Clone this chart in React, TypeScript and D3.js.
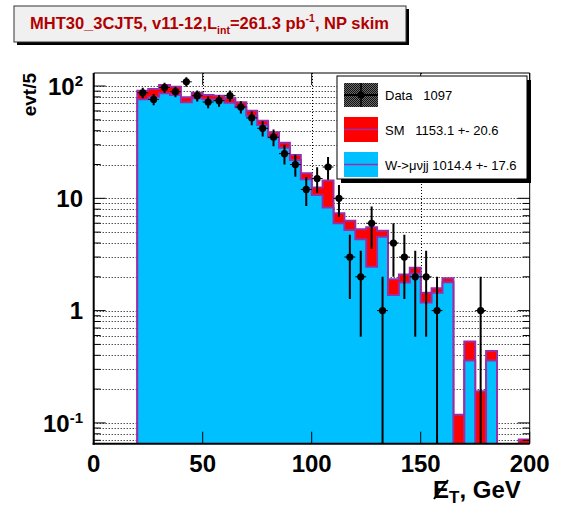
import React from 'react';
import * as d3 from 'd3';

// ---- data (5 GeV bins from 20 to 200 GeV) ----
const binLow = [20,25,30,35,40,45,50,55,60,65,70,75,80,85,90,95,100,105,110,115,120,125,130,135,140,145,150,155,160,165,170,175,180,185,190,195];
const dataCounts = [87,76,97,89,109,82,72,74,82,65,52,42,35,25,20,12,15,19,10,3,2,6,1,4,3,2,2,1,0,0,0,1,0,0,0,0];
const smValues = [90.8,94,102,98.6,79.3,87.2,83.1,82.0,77.7,71.6,60.3,49.1,38.7,31.3,24.3,16.7,12.5,14.4,7.35,6.32,5.3,5.52,5.15,1.9,2.1,2.41,1.44,1.58,1.94,0.118,0.53,0.191,0.437,0,0,0.071];
const wValues = [76.1,80.3,86.1,83.1,71.6,77.7,76.1,75.0,71.0,64.6,54.4,44.9,34.9,28.2,21.9,14.8,10.7,8.3,5.99,5.22,4.32,2.46,4.55,1.38,1.78,2.14,1.18,1.44,1.79,0,0.36,0,0.36,0,0,0];
const xTicks = [0, 50, 100, 150, 200];
const yMajor = [0.1, 1, 10, 100];
const yMajorLabels: [string, string][] = [["10", "-1"], ["1", ""], ["10", ""], ["10", "2"]];
const legendLabels = ["Data   1097", "SM   1153.1 +- 20.6", "W->\u03bc\u03bdjj 1014.4 +- 17.6"];
const binWidth = 5;

const W = 563, H = 522;
const L = 93.7, R = 529.7, T = 73, B = 443.7;
const FONT = "'Liberation Sans', Arial, Helvetica, sans-serif";
const RED = '#ff0000';
const BLUE = '#00c0ff';
const PURPLE = '#9a2ea6';

const x = d3.scaleLinear().domain([0, 200]).range([L, R]);
const y = d3.scaleLog().domain([0.06529, 130.6]).range([B, T]);

function yv(v: number) {
  return v > 0 ? Math.min(y(v), B + 3) : B + 3;
}
function histPath(vals: number[], close: boolean) {
  let d = `M${x(binLow[0])},${B + 3}`;
  vals.forEach((v, i) => {
    d += `L${x(binLow[i])},${yv(v)}L${x(binLow[i] + binWidth)},${yv(v)}`;
  });
  d += `L${x(binLow[binLow.length - 1] + binWidth)},${B + 3}`;
  if (close) d += 'Z';
  return d;
}

const gridVals: number[] = [];
for (let e = -2; e <= 2; e++) for (let k = 1; k <= 9; k++) {
  const v = k * Math.pow(10, e);
  if (v > 0.06529 && v < 130.6) gridVals.push(v);
}

export default function App() {
  const rnd = (v: number) => Math.round(v) + 0.5;
  return (
    <svg width={W} height={H} style={{ position: 'absolute', left: 0, top: 0, background: '#fff' }} fontFamily={FONT}>
      <defs>
        <clipPath id="plot"><rect x={L} y={T} width={R - L} height={B - T} /></clipPath>
        <pattern id="dat" width="2" height="2" patternUnits="userSpaceOnUse">
          <rect width="2" height="2" fill="#6a6a6a" />
          <rect width="1" height="1" fill="#111" />
          <rect x="1" y="1" width="1" height="1" fill="#111" />
        </pattern>
      </defs>
      <rect x={0} y={0} width={W} height={H} fill="#fff" />

      {/* title box */}
      <rect x={17} y={9} width={392} height={36} fill="#000" />
      <rect x={14} y={6} width={392} height={36} fill="#f0f0f0" stroke="#333" strokeWidth={1} />
      <text x={30} y={28.5} fontSize={16.5} fontWeight="bold" fill="#b00000">
        MHT30_3CJT5, v11-12,L<tspan fontSize={10.5} dy={5}>int</tspan><tspan dy={-5}>=261.3 pb</tspan><tspan fontSize={10.5} dy={-7}>-1</tspan><tspan dy={7}>, NP skim</tspan>
      </text>

      {/* grid */}
      <g stroke="#000" strokeWidth={1} strokeDasharray="1 2">
        {gridVals.map((v) => (
          <line key={'g' + v} x1={L} x2={R} y1={rnd(y(v))} y2={rnd(y(v))} />
        ))}
        {[50, 100, 150].map((v) => (
          <line key={'gx' + v} x1={rnd(x(v))} x2={rnd(x(v))} y1={T} y2={B} />
        ))}
      </g>

      {/* histograms */}
      <g clipPath="url(#plot)">
        <path d={histPath(smValues, true)} fill={RED} stroke="none" />
        <path d={histPath(smValues, false)} fill="none" stroke={PURPLE} strokeWidth={2} />
        <path d={histPath(wValues, true)} fill={BLUE} stroke="none" />
        <path d={histPath(wValues, false)} fill="none" stroke={PURPLE} strokeWidth={2} />
      </g>

      {/* data points */}
      <g clipPath="url(#plot)" stroke="#000">
        {dataCounts.map((n, i) => {
          if (n <= 0) return null;
          const cx = x(binLow[i] + binWidth / 2);
          const cy = y(n);
          const e = Math.sqrt(n);
          const lo = n - e > 0 ? y(n - e) : B + 3;
          return (
            <g key={'d' + i}>
              <line x1={cx} x2={cx} y1={y(n + e)} y2={lo} strokeWidth={2} />
              <line x1={x(binLow[i])} x2={x(binLow[i] + binWidth)} y1={cy} y2={cy} strokeWidth={1} />
              <circle cx={cx} cy={cy} r={3.6} fill="#000" stroke="none" />
            </g>
          );
        })}
      </g>

      {/* frame and ticks */}
      <g stroke="#000" fill="none">
        <line x1={L} x2={R} y1={T} y2={T} strokeWidth={1} />
        <line x1={R} x2={R} y1={T} y2={B} strokeWidth={1} />
        <line x1={L} x2={L} y1={T} y2={B + 1} strokeWidth={2} />
        <line x1={L - 1} x2={R} y1={B} y2={B} strokeWidth={2} />
        {xTicks.map((v) => (
          <g key={'xt' + v}>
            <line x1={x(v)} x2={x(v)} y1={B} y2={B - 12} strokeWidth={1} />
            <line x1={x(v)} x2={x(v)} y1={T} y2={T + 12} strokeWidth={1} />
          </g>
        ))}
        {gridVals.map((v) => {
          const major = yMajor.some((m) => Math.abs(m - v) < 1e-9);
          const len = major ? 12 : 7;
          return (
            <g key={'yt' + v}>
              <line x1={L} x2={L + len} y1={y(v)} y2={y(v)} strokeWidth={1} />
              <line x1={R} x2={R - len} y1={y(v)} y2={y(v)} strokeWidth={1} />
            </g>
          );
        })}
      </g>

      {/* tick labels */}
      <g fontSize={24} fontWeight="bold" fill="#000">
        {xTicks.map((v) => (
          <text key={'xl' + v} x={x(v)} y={472} textAnchor="middle">{v}</text>
        ))}
        {yMajor.map((v, i) => (
          <text key={'yl' + v} x={83} y={y(v) + 8.6} textAnchor="end">
            {yMajorLabels[i][0]}
            {yMajorLabels[i][1] ? <tspan fontSize={15} dy={-9}>{yMajorLabels[i][1]}</tspan> : null}
          </text>
        ))}
      </g>

      {/* axis titles */}
      <text transform="translate(36,73) rotate(-90)" textAnchor="end" fontSize={19} fontWeight="bold">evt/5</text>
      <text x={433} y={498} fontSize={24} fontWeight="bold">
        E<tspan fontSize={17} dy={5}>T</tspan><tspan dy={-5}>, GeV</tspan>
      </text>
      <line x1={434} y1={499} x2={448} y2={480} stroke="#000" strokeWidth={2} />

      {/* legend */}
      <rect x={341} y={80} width={190} height={103} fill="#000" />
      <rect x={337} y={76} width={190} height={103} fill="#fff" stroke="#000" strokeWidth={1} />
      <rect x={344} y={83} width={34} height={24} fill="url(#dat)" />
      <line x1={344} x2={378} y1={95} y2={95} stroke="#000" strokeWidth={2} />
      <line x1={361} x2={361} y1={83} y2={107} stroke="#000" strokeWidth={1.5} />
      <circle cx={361} cy={95} r={3.5} fill="#000" />
      <rect x={344} y={117} width={34} height={25} fill={RED} />
      <line x1={344} x2={378} y1={129.5} y2={129.5} stroke={PURPLE} strokeWidth={1.5} />
      <rect x={344} y={152} width={34} height={25} fill={BLUE} />
      <line x1={344} x2={378} y1={164.5} y2={164.5} stroke={PURPLE} strokeWidth={1.5} />
      <g fontSize={13} fill="#000" style={{ whiteSpace: 'pre' }}>
        <text x={385} y={100} xmlSpace="preserve">{legendLabels[0]}</text>
        <text x={385} y={135} xmlSpace="preserve">{legendLabels[1]}</text>
        <text x={385} y={169.5} xmlSpace="preserve">{legendLabels[2]}</text>
      </g>
    </svg>
  );
}
